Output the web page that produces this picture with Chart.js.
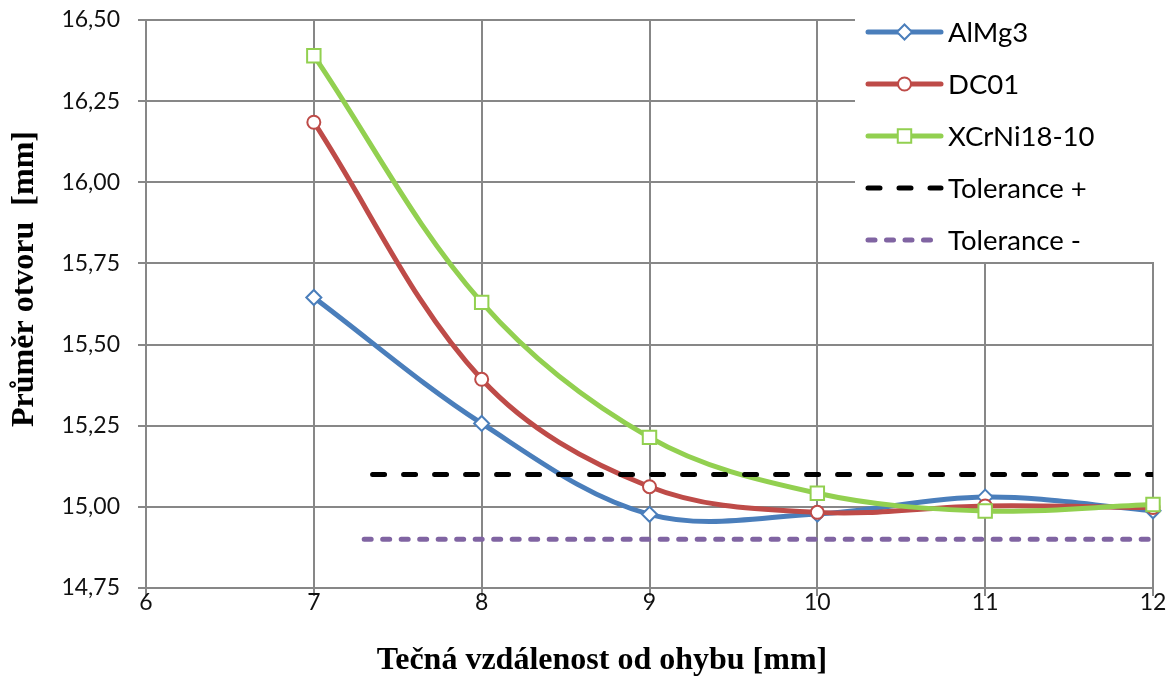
<!DOCTYPE html>
<html>
<head>
<meta charset="utf-8">
<script src="https://cdn.jsdelivr.net/npm/chart.js@4/dist/chart.umd.min.js"></script>
<style>
  html, body { margin: 0; padding: 0; background: #ffffff; }
  #wrap { width: 1176px; height: 681px; }
</style>
</head>
<body>
<div id="wrap"><canvas id="chart" width="1176" height="681"></canvas></div>
<script>
// Measured hole diameter versus tangential distance from the bend
const distances = [7, 8, 9, 10, 11, 12];
const alMg3 = [15.645, 15.257, 14.977, 14.978, 15.030, 14.988];
const dc01 = [16.185, 15.393, 15.062, 14.983, 15.003, 14.998];
const xCrNi = [16.390, 15.630, 15.214, 15.042, 14.987, 15.007];

// Tolerance band limits
const tolPlusX = [7.35, 12];
const tolPlusY = [15.10, 15.10];
const tolMinusX = [7.3, 12];
const tolMinusY = [14.90, 14.90];

const seriesNames = ['AlMg3', 'DC01', 'XCrNi18-10', 'Tolerance +', 'Tolerance -'];
const xTitle = 'Tečná vzdálenost od ohybu [mm]';
const yTitle = 'Průměr otvoru  [mm]';

const toPoints = (xs, ys) => xs.map((x, i) => ({ x: x, y: ys[i] }));

const GRID = '#878787';
const BLUE = '#4A7EBB';
const RED = '#BE4B48';
const GREEN = '#92D050';
const PURPLE = '#8064A2';

function seriesStyle(color, pointStyle, radius) {
  return {
    borderColor: color,
    backgroundColor: color,
    borderWidth: 5,
    borderCapStyle: 'round',
    borderJoinStyle: 'round',
    tension: 0.35,
    pointStyle: pointStyle,
    pointRadius: radius,
    pointBorderWidth: 2,
    pointBorderColor: color,
    pointBackgroundColor: '#ffffff',
    clip: false,
    fill: false
  };
}

const datasets = [
  Object.assign({ label: seriesNames[0], data: toPoints(distances, alMg3), order: 5 }, seriesStyle(BLUE, 'rectRot', 7.5)),
  Object.assign({ label: seriesNames[1], data: toPoints(distances, dc01), order: 4 }, seriesStyle(RED, 'circle', 6.5)),
  Object.assign({ label: seriesNames[2], data: toPoints(distances, xCrNi), order: 3 }, seriesStyle(GREEN, 'rect', 9.5)),
  {
    label: seriesNames[3], data: toPoints(tolPlusX, tolPlusY), order: 2,
    borderColor: '#000000', borderWidth: 5, borderDash: [12, 19], borderCapStyle: 'round',
    pointRadius: 0, tension: 0, fill: false
  },
  {
    label: seriesNames[4], data: toPoints(tolMinusX, tolMinusY), order: 1,
    borderColor: PURPLE, borderWidth: 5, borderDash: [7, 11.5], borderCapStyle: 'round',
    pointRadius: 0, tension: 0, fill: false
  }
];

// Marker glyphs for the legend samples
function drawMarker(ctx, style, r, x, y, color) {
  ctx.save();
  ctx.setLineDash([]);
  ctx.fillStyle = '#ffffff';
  ctx.strokeStyle = color;
  ctx.lineWidth = 2;
  ctx.beginPath();
  if (style === 'rectRot') {
    ctx.moveTo(x, y - r); ctx.lineTo(x + r, y); ctx.lineTo(x, y + r); ctx.lineTo(x - r, y); ctx.closePath();
  } else if (style === 'circle') {
    ctx.arc(x, y, r, 0, Math.PI * 2);
  } else if (style === 'rect') {
    const s = Math.SQRT1_2 * r;
    ctx.rect(x - s, y - s, 2 * s, 2 * s);
  }
  ctx.fill();
  ctx.stroke();
  ctx.restore();
}

const legendAndTitles = {
  id: 'legendAndTitles',
  afterDraw(chart) {
    const ctx = chart.ctx;
    ctx.save();

    // axis titles
    ctx.fillStyle = '#000000';
    ctx.font = 'bold 32px "Liberation Serif"';
    ctx.textAlign = 'center';
    ctx.textBaseline = 'middle';
    ctx.fillText(xTitle, 602, 661);
    ctx.save();
    ctx.translate(25, 279);
    ctx.rotate(-Math.PI / 2);
    ctx.fillText(yTitle, 0, 0);
    ctx.restore();

    // legend panel
    ctx.fillStyle = '#ffffff';
    ctx.fillRect(855, 0, 321, 262);
    const rowY = [32, 84, 136, 188, 240];
    const x0 = 868, x1 = 941;
    chart.data.datasets.forEach((ds, i) => {
      const y = rowY[i];
      ctx.save();
      ctx.strokeStyle = ds.borderColor;
      ctx.lineWidth = ds.borderWidth;
      ctx.lineCap = 'round';
      ctx.setLineDash(ds.borderDash || []);
      ctx.beginPath();
      ctx.moveTo(x0, y);
      ctx.lineTo(x1, y);
      ctx.stroke();
      ctx.restore();
      if (ds.pointRadius) {
        drawMarker(ctx, ds.pointStyle, ds.pointRadius, (x0 + x1) / 2, y, ds.borderColor);
      }
      ctx.fillStyle = '#000000';
      ctx.font = '27.5px Lato';
      ctx.textAlign = 'left';
      ctx.textBaseline = 'middle';
      ctx.fillText(ds.label, 948, y + 1);
    });
    ctx.restore();
  }
};

new Chart(document.getElementById('chart'), {
  type: 'line',
  data: { datasets: datasets },
  plugins: [legendAndTitles],
  options: {
    responsive: false,
    animation: false,
    devicePixelRatio: 1,
    layout: { padding: { top: 20, right: 23, left: 0, bottom: 0 } },
    plugins: { legend: { display: false }, tooltip: { enabled: false } },
    scales: {
      x: {
        type: 'linear',
        position: 'bottom',
        min: 6, max: 12,
        afterFit: (s) => { s.height = 93; s.paddingLeft = 0; s.paddingRight = 0; },
        ticks: {
          stepSize: 1,
          padding: -7,
          color: '#111111',
          font: { family: 'Lato', size: 23 },
          callback: (v) => String(v)
        },
        grid: { color: GRID, lineWidth: 2, tickLength: 8 },
        border: { color: GRID, width: 2 }
      },
      y: {
        type: 'linear',
        min: 14.75, max: 16.5,
        afterFit: (s) => { s.width = 146; s.paddingTop = 0; s.paddingBottom = 0; },
        ticks: {
          stepSize: 0.25,
          padding: 18,
          color: '#111111',
          font: { family: 'Lato', size: 23 },
          callback: (v) => v.toFixed(2).replace('.', ',')
        },
        grid: { color: GRID, lineWidth: 2, tickLength: 8 },
        border: { color: GRID, width: 2 }
      }
    }
  }
});
</script>
</body>
</html>
